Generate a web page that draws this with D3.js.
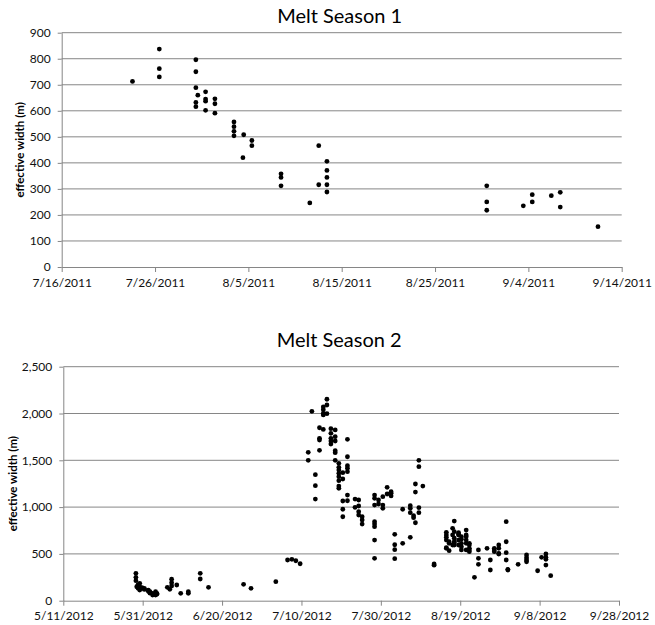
<!DOCTYPE html>
<html>
<head>
<meta charset="utf-8">
<script src="https://cdn.jsdelivr.net/npm/d3@7"></script>
<style>
  body { margin: 0; background: #fff; }
  svg { display: block; }
  text { font-family: Lato, "Open Sans", sans-serif; }
</style>
</head>
<body>
<div id="chart"></div>
<script>
// Melt Season 1 (2011): acquisition times and the widths measured at each
const s1Dates = [
  "7/23/2011 14:00", "7/26/2011 11:00", "7/30/2011 09:00", "7/30/2011 14:00",
  "7/31/2011 10:00", "8/1/2011 10:00", "8/3/2011 11:00", "8/4/2011 10:00",
  "8/4/2011 12:00", "8/5/2011 09:00", "8/8/2011 12:00", "8/11/2011 14:00",
  "8/12/2011 13:00", "8/13/2011 10:00", "8/30/2011 13:00", "9/3/2011 11:00",
  "9/4/2011 10:00", "9/6/2011 11:00", "9/7/2011 10:00", "9/11/2011 11:00"
];
const s1Widths = [
  [713], [837, 762, 730], [796, 750, 689, 632, 616], [660],
  [673, 645, 637, 602], [646, 627, 591], [557, 539, 521, 504], [420],
  [508], [486, 466], [358, 344, 312], [246],
  [466, 316], [406, 371, 344, 316, 288], [312, 250, 218], [235],
  [278, 250], [274], [287, 230], [155]
];
const s1XTicks = ["7/16/2011", "7/26/2011", "8/5/2011", "8/15/2011", "8/25/2011", "9/4/2011", "9/14/2011"];
const s1YTicks = [0, 100, 200, 300, 400, 500, 600, 700, 800, 900];

// Melt Season 2 (2012)
const s2Dates = [
  "5/29/2012 07:00", "5/29/2012 12:00", "5/29/2012 20:00", "5/30/2012 06:00",
  "5/30/2012 20:00", "5/31/2012 10:00", "6/1/2012 10:00", "6/1/2012 20:00",
  "6/2/2012 12:00", "6/3/2012 06:00", "6/3/2012 14:00", "6/6/2012 05:00",
  "6/6/2012 20:00", "6/7/2012 07:00", "6/8/2012 14:00", "6/9/2012 14:00",
  "6/11/2012 12:00", "6/14/2012 12:00", "6/16/2012 14:00", "6/25/2012 10:00",
  "6/27/2012 07:00", "7/3/2012 13:00", "7/6/2012 12:00", "7/7/2012 14:00",
  "7/8/2012 14:00", "7/9/2012 16:00", "7/11/2012 17:00", "7/12/2012 15:00",
  "7/13/2012 12:00", "7/14/2012 13:00", "7/15/2012 12:00", "7/16/2012 10:00",
  "7/17/2012 10:00", "7/18/2012 12:00", "7/19/2012 10:00", "7/20/2012 10:00",
  "7/21/2012 14:00", "7/23/2012 12:00", "7/24/2012 10:00", "7/25/2012 07:00",
  "7/28/2012 10:00", "7/29/2012 10:00", "7/30/2012 12:00", "7/31/2012 14:00",
  "8/1/2012 14:00", "8/2/2012 12:00", "8/4/2012 12:00", "8/6/2012 10:00",
  "8/7/2012 06:00", "8/7/2012 17:00", "8/8/2012 14:00", "8/9/2012 14:00",
  "8/12/2012 10:00", "8/15/2012 12:00", "8/16/2012 05:00", "8/17/2012 02:00",
  "8/17/2012 12:00", "8/18/2012 14:00", "8/19/2012 07:00", "8/20/2012 12:00",
  "8/21/2012 07:00", "8/22/2012 14:00", "8/23/2012 14:00", "8/25/2012 18:00",
  "8/26/2012 14:00", "8/27/2012 14:00", "8/28/2012 17:00", "8/30/2012 14:00",
  "8/31/2012 00:00", "9/2/2012 14:00", "9/4/2012 17:00", "9/7/2012 12:00",
  "9/8/2012 12:00", "9/9/2012 14:00", "9/10/2012 19:00"
];
const s2Widths = [
  [293, 250, 214], [150], [132, 172], [186, 150, 114],
  [132, 140], [132, 120], [114, 100], [96, 80],
  [79, 61], [96, 61, 75], [79, 70], [143],
  [122], [229, 192, 157], [168], [79],
  [96, 79], [293, 232], [143], [175],
  [132], [203], [435], [442],
  [427], [395], [1585, 1500], [2023],
  [1346, 1229, 1086], [1848, 1735, 1717, 1607], [2070, 2040, 2000, 1985, 1830], [2152, 2091, 1998],
  [1838, 1788, 1735, 1706, 1674], [1824, 1752, 1706, 1602, 1581, 1500],
  [1468, 1425, 1396, 1361, 1325, 1282, 1225, 1201], [1368, 1300, 1065, 977, 897],
  [1724, 1538, 1442, 1415, 1378, 1129, 1068], [1086, 998], [1076, 1012, 951, 915], [897, 862, 819],
  [1129, 1094, 1022, 844, 819, 791, 648, 453], [1076, 1033], [1111, 1022, 987], [1211, 1140],
  [1165, 1147, 1119], [709, 598, 545, 449], [977, 613], [1015, 987, 940, 677],
  [908, 887], [1247, 1161, 833], [1500, 1432, 994, 940], [1225],
  [392, 380], [730, 702, 677, 648, 566, 560], [630, 613, 534], [773, 702, 595],
  [851, 737, 667, 630, 620, 595], [727, 712, 702, 648, 595], [684, 656, 613, 577, 542], [755, 702, 684, 648, 613, 542],
  [613, 595, 560, 542, 524], [250], [542, 453, 389], [560],
  [435, 328], [542, 560, 524], [595, 506, 560, 499], [844, 630, 513, 435],
  [335, 328], [389], [488, 460, 435, 416], [320],
  [463], [499, 463, 442, 381], [267]
];
const s2XTicks = ["5/11/2012", "5/31/2012", "6/20/2012", "7/10/2012", "7/30/2012", "8/19/2012", "9/8/2012", "9/28/2012"];
const s2YTicks = [0, 500, 1000, 1500, 2000, 2500];

const width = 655, height = 625;
const parseTime = d3.timeParse("%m/%d/%Y %H:%M");
const parseDay = d3.timeParse("%m/%d/%Y");
const gridColor = "#868686";

const svg = d3.select("#chart").append("svg")
  .attr("width", width)
  .attr("height", height)
  .attr("viewBox", [0, 0, width, height]);

function flatten(dates, widths) {
  return dates.flatMap((d, i) => widths[i].map(w => ({ date: parseTime(d), value: w })));
}

function drawSeason(opt) {
  const tickDates = opt.xTicks.map(parseDay);
  const x = d3.scaleTime()
    .domain([tickDates[0], tickDates[tickDates.length - 1]])
    .range([opt.left, opt.right]);
  const y = d3.scaleLinear()
    .domain([0, d3.max(opt.yTicks)])
    .range([opt.bottom, opt.top]);

  const g = svg.append("g");

  // horizontal gridlines
  g.append("g")
    .selectAll("line")
    .data(opt.yTicks.filter(d => d > 0))
    .join("line")
    .attr("x1", opt.left)
    .attr("x2", opt.right)
    .attr("y1", d => y(d))
    .attr("y2", d => y(d))
    .attr("stroke", gridColor)
    .attr("stroke-width", 1);

  g.append("g")
    .attr("transform", `translate(${opt.left},0)`)
    .call(d3.axisLeft(y).tickValues(opt.yTicks).tickFormat(opt.yFormat).tickSize(4).tickPadding(7).tickSizeOuter(0))
    .call(a => a.selectAll("line, path").attr("stroke", gridColor))
    .call(a => a.selectAll("text").attr("fill", "#111").attr("font-size", "12px").attr("font-family", "Lato, sans-serif"));

  g.append("g")
    .attr("transform", `translate(0,${opt.bottom})`)
    .call(d3.axisBottom(x).tickValues(tickDates).tickFormat((d, i) => opt.xTicks[i]).tickSize(5).tickPadding(6).tickSizeOuter(0))
    .call(a => a.selectAll("line, path").attr("stroke", gridColor))
    .call(a => a.selectAll("text").attr("fill", "#111").attr("font-size", "12px").attr("font-family", "Lato, sans-serif"));

  g.append("text")
    .attr("x", (opt.left + opt.right) / 2 - 2)
    .attr("y", opt.titleY)
    .attr("text-anchor", "middle")
    .attr("font-size", "20px")
    .attr("fill", "#000")
    .text(opt.title);

  g.append("text")
    .attr("transform", `translate(${opt.labelX},${(opt.top + opt.bottom) / 2}) rotate(-90)`)
    .attr("text-anchor", "middle")
    .attr("font-size", "11.5px")
    .attr("font-weight", "bold")
    .attr("fill", "#000")
    .text("effective width (m)");

  g.append("g")
    .selectAll("circle")
    .data(opt.points)
    .join("circle")
    .attr("cx", d => x(d.date))
    .attr("cy", d => y(d.value))
    .attr("r", 2.4)
    .attr("fill", "#000");
}

drawSeason({
  title: "Melt Season 1",
  titleY: 23,
  points: flatten(s1Dates, s1Widths),
  xTicks: s1XTicks,
  yTicks: s1YTicks,
  yFormat: d3.format("d"),
  left: 61.7, right: 621.7, top: 32.7, bottom: 267,
  labelX: 24
});

drawSeason({
  title: "Melt Season 2",
  titleY: 347,
  points: flatten(s2Dates, s2Widths),
  xTicks: s2XTicks,
  yTicks: s2YTicks,
  yFormat: d3.format(","),
  left: 63.3, right: 619, top: 366.7, bottom: 600.7,
  labelX: 17
});
</script>
</body>
</html>
